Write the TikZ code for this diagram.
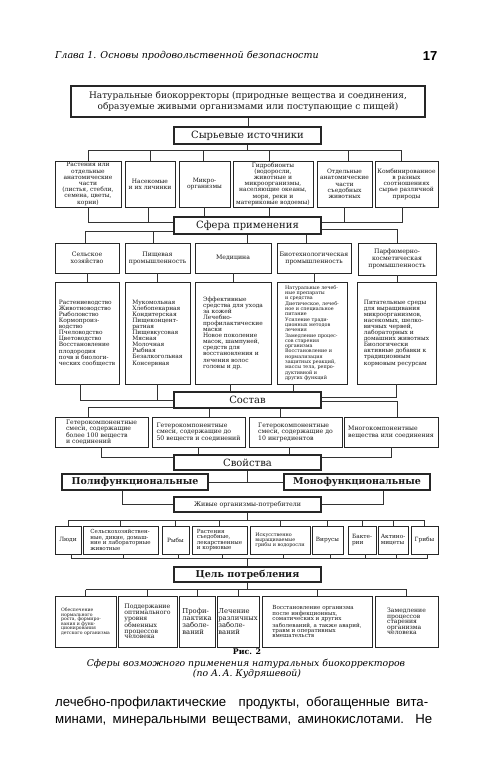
\documentclass[tikz,border=0pt]{standalone}
\usepackage{fontspec}
\setmainfont{DejaVu Serif}
\newfontfamily\bodyfont{Liberation Sans}
\usetikzlibrary{calc}
\newcommand\fs[2]{\fontsize{#1}{#2}\selectfont}
\newcommand\bx[7]{\node[#6,minimum width={(#4)-(#2)},minimum height={(#5)-(#3)}] (#1) at ({((#2)+(#4))/2},{((#3)+(#5))/2}) {#7};}
\begin{document}
\begin{tikzpicture}[x=1pt,y=-1pt,
  box/.style={draw=black!85,line width=0.9pt,inner sep=0.4pt,align=center,text=black!90},
  hbox/.style={box,line width=1.1pt,font=\fs{10}{12}},
  sm/.style={box,font=\fs{6}{6.2}},
  lt/.style={box,align=left},
  ln/.style={draw=black!80,line width=0.6pt}]
\useasboundingbox[fill=white] (0,0) rectangle (500,782);
% header
\node[anchor=west,inner sep=0,font=\itshape\fs{9.5}{11}] (hdr) at (55,56) {Глава 1. Основы продовольственной безопасности};
\node[inner sep=0,font=\bodyfont\bfseries\fs{13}{14}] (pg) at (430,56) {17};
% top
\bx{top}{71}{86}{425}{117}{box,line width=1.1pt,font=\fs{9}{11}}{Натуральные биокорректоры (природные вещества и соединения,\\ образуемые живыми организмами или поступающие с пищей)}
\bx{src}{174}{127}{321}{144}{hbox}{Сырьевые источники}
% sources
\bx{s1}{55}{161}{121}{207}{sm}{Растения или\\ отдельные\\ анатомические\\ части\\ (листья, стебли,\\ семена, цветы,\\ корни)}
\bx{s2}{125}{161}{175}{207}{sm}{Насекомые\\ и их личинки}
\bx{s3}{179}{161}{230}{207}{sm}{Микро-\\ организмы}
\bx{s4}{233}{161}{313}{207}{sm}{Гидробионты\\ (водоросли,\\ животные и\\ микроорганизмы,\\ населяющие океаны,\\ моря, реки и\\ материковые водоемы)}
\bx{s5}{317}{161}{372}{207}{sm}{Отдельные\\ анатомические\\ части\\ съедобных\\ животных}
\bx{s6}{375}{161}{438}{207}{sm}{Комбинированное\\ в разных\\ соотношениях\\ сырье различной\\ природы}
\bx{sph}{174}{217}{321}{234}{hbox}{Сфера применения}
% spheres
\bx{p1}{55}{243}{119}{273}{box,font=\fs{6.2}{7}}{Сельское\\ хозяйство}
\bx{p2}{125}{243}{190}{273}{box,font=\fs{6.2}{7}}{Пищевая\\ промышленность}
\bx{p3}{195}{243}{271}{273}{box,font=\fs{6.2}{7}}{Медицина}
\bx{p4}{277}{243}{351}{273}{box,font=\fs{6.2}{7}}{Биотехнологическая\\ промышленность}
\bx{p5}{358}{243}{436}{275}{box,font=\fs{6.2}{7}}{Парфюмерно-\\ косметическая\\ промышленность}
% tall boxes
\bx{t1}{55}{282}{119}{384}{lt,font=\fs{5.9}{6.1}}{Растениеводство\\ Животноводство\\ Рыболовство\\ Кормопроиз-\\ водство\\ Пчеловодство\\ Цветоводство\\ Восстановление\\ плодородия\\ почв и биологи-\\ ческих сообществ}
\bx{t2}{125}{282}{190}{384}{lt,font=\fs{5.9}{6.1}}{Мукомольная\\ Хлебопекарная\\ Кондитерская\\ Пищеконцент-\\ ратная\\ Пищевкусовая\\ Мясная\\ Молочная\\ Рыбная\\ Безалкогольная\\ Консервная}
\bx{t3}{195}{282}{271}{384}{lt,font=\fs{5.9}{6.1}}{Эффективные\\ средства для ухода\\ за кожей\\ Лечебно-\\ профилактические\\ маски\\ Новое поколение\\ масок, шампуней,\\ средств для\\ восстановления и\\ лечения волос\\ головы и др.}
\bx{t4}{277}{282}{347}{384}{lt,font=\fs{4.9}{5.3}}{Натуральные лечеб-\\ ные препараты\\ и средства\\ Диетическое, лечеб-\\ ное и специальное\\ питание\\ Усиление тради-\\ ционных методов\\ лечения\\ Замедление процес-\\ сов старения\\ организма\\ Восстановление и\\ нормализация\\ защитных реакций,\\ массы тела, репро-\\ дуктивной и\\ других функций}
\bx{t5}{357}{282}{436}{384}{lt,font=\fs{5.9}{6.1}}{Питательные среды\\ для выращивания\\ микроорганизмов,\\ насекомых, шелко-\\ вичных червей,\\ лабораторных и\\ домашних животных\\ Биологически\\ активные добавки к\\ традиционным\\ кормовым ресурсам}
\bx{sost}{174}{392}{321}{408}{hbox}{Состав}
% composition
\bx{c1}{55}{417}{148}{447}{lt,font=\fs{6.2}{6.5}}{Гетерокомпонентные\\ смеси, содержащие\\ более 100 веществ\\ и соединений}
\bx{c2}{152}{417}{245}{447}{lt,font=\fs{6.2}{6.5}}{Гетерокомпонентные\\ смеси, содержащие до\\ 50 веществ и соединений}
\bx{c3}{249}{417}{342}{447}{lt,font=\fs{6.2}{6.5}}{Гетерокомпонентные\\ смеси, содержащие до\\ 10 ингредиентов}
\bx{c4}{344}{417}{438}{447}{lt,font=\fs{6.2}{6.5}}{Многокомпонентные\\ вещества или соединения}
\bx{svo}{174}{455}{321}{470}{hbox}{Свойства}
\bx{poly}{62}{474}{208}{490}{box,line width=1.1pt,font=\bfseries\fs{9.5}{11}}{Полифункциональные}
\bx{mono}{284}{474}{430}{490}{box,line width=1.1pt,font=\bfseries\fs{9.5}{11}}{Монофункциональные}
\bx{zhiv}{174}{497}{321}{512}{box,line width=1.1pt,font=\fs{6.3}{7}}{Живые организмы-потребители}
% organisms
\bx{o1}{55}{526}{81}{554}{box,font=\fs{5.8}{5.6}}{Люди}
\bx{o2}{83}{526}{158}{554}{lt,font=\fs{5.6}{5.4}}{Сельскохозяйствен-\\ ные, дикие, домаш-\\ ние и лабораторные\\ животные}
\bx{o3}{162}{526}{189}{554}{box,font=\fs{5.8}{5.6}}{Рыбы}
\bx{o4}{192}{526}{247}{554}{lt,font=\fs{5.6}{5.4}}{Растения\\ съедобные,\\ лекарственные\\ и кормовые}
\bx{o5}{250}{526}{310}{554}{lt,font=\fs{4.9}{5.2}}{Искусственно\\ выращиваемые\\ грибы и водоросли}
\bx{o6}{312}{526}{343}{554}{box,font=\fs{5.8}{5.6}}{Вирусы}
\bx{o7}{348}{526}{376}{554}{lt,font=\fs{5.8}{5.6}}{Бакте-\\ рии}
\bx{o8}{378}{526}{408}{554}{lt,font=\fs{5.8}{5.6}}{Актино-\\ мицеты}
\bx{o9}{411}{526}{438}{554}{box,font=\fs{5.8}{5.6}}{Грибы}
\bx{cel}{174}{567}{321}{582}{box,line width=1.1pt,font=\bfseries\fs{9.5}{11}}{Цель потребления}
% goals
\bx{g1}{55}{596}{116}{647}{lt,font=\fs{4.6}{4.5}}{Обеспечение\\ нормального\\ роста, формиро-\\ вания и функ-\\ ционирования\\ детского организма}
\bx{g2}{118}{596}{177}{647}{lt,font=\fs{6.2}{5.7}}{Поддержание\\ оптимального\\ уровня\\ обменных\\ процессов\\ человека}
\bx{g3}{179}{596}{215}{647}{lt,font=\fs{6.8}{7.2}}{Профи-\\ лактика\\ заболе-\\ ваний}
\bx{g4}{217}{596}{259}{647}{lt,font=\fs{6.8}{7.2}}{Лечение\\ различных\\ заболе-\\ ваний}
\bx{g5}{262}{596}{372}{647}{lt,font=\fs{5.6}{5.1}}{Восстановление организма\\ после инфекционных,\\ соматических и других\\ заболеваний, а также аварий,\\ травм и оперативных\\ вмешательств}
\bx{g6}{375}{596}{438}{647}{lt,font=\fs{6.1}{5.6}}{Замедление\\ процессов\\ старения\\ организма\\ человека}
% caption and body
\node[inner sep=0,font=\bfseries\fs{7.8}{9}] (cap1) at (247,652) {Рис. 2};
\node[inner sep=0,font=\itshape\fs{9.3}{11}] (cap2) at (246,663.5) {Сферы возможного применения натуральных биокорректоров};
\node[inner sep=0,font=\itshape\fs{9.3}{11}] (cap3) at (247,674) {(по А.\,А. Кудряшевой)};
\node[anchor=west,inner sep=0,font=\bodyfont\fs{13.2}{15}] (body1) at (55,703) {\makebox[373pt][s]{лечебно-профилактические\ \ продукты, обогащенные вита-}};
\node[anchor=west,inner sep=0,font=\bodyfont\fs{13.2}{15}] (body2) at (55,720) {\makebox[377pt][s]{минами, минеральными веществами, аминокислотами. Не}};
% ---------- connectors
\draw[ln] (top.south) -- (top.south |- src.north);
\coordinate (busA) at ($(src.south)+(0,6)$);
\draw[ln] (src.south) -- (busA);
\coordinate (s1t) at (s1.north);
\coordinate (s2t) at (s2.north);
\coordinate (s3t) at ([xshift=-1pt]s3.north);
\coordinate (s4t) at ([xshift=-4pt]s4.north);
\coordinate (s5t) at ([xshift=4pt]s5.north);
\coordinate (s6t) at ([xshift=-5pt]s6.north);
\draw[ln] (s1t |- busA) -- (s6t |- busA);
\foreach \i in {1,...,6} \draw[ln] (s\i t |- busA) -- (s\i t);
% sources -> sphere
\coordinate (jL) at ([yshift=3.5pt]sph.west);
\coordinate (jR) at ([yshift=3.5pt]sph.east);
\coordinate (s2b) at ([xshift=-2pt]s2.south);
\coordinate (s4b) at ([xshift=-4pt]s4.south);
\coordinate (s6b) at ([xshift=-4.5pt]s6.south);
\draw[ln] (s1.south) -- (s1.south |- jL) -- (jL);
\draw[ln] (s2b) -- (s2b |- jL);
\draw[ln] (s3.south) -- (s3.south |- sph.north);
\draw[ln] (s4b) -- (s4b |- sph.north);
\draw[ln] (s6b) -- (s6b |- jR) -- (jR);
\draw[ln] (s5.south) -- (s5.south |- jR);
% sphere -> p
\coordinate (kL) at ([yshift=-5.5pt]sph.west);
\coordinate (kR) at ([yshift=-4pt]sph.east);
\coordinate (p1t) at ([xshift=-2pt]p1.north);
\coordinate (p2t) at ([xshift=-4pt]p2.north);
\coordinate (p4t) at ([xshift=-8pt]p4.north);
\draw[ln] (kL) -- (p1t |- kL) -- (p1t);
\draw[ln] (p2t |- kL) -- (p2t);
\draw[ln] (sph.south) -- (sph.south |- p3.north);
\draw[ln] (p4t |- sph.south) -- (p4t);
\draw[ln] (kR) -- (p5.north |- kR) -- (p5.north);
% p -> t
\foreach \i in {1,...,5} \draw[ln] (p\i.south) -- (p\i.south |- t\i.north);
% t -> sost
\coordinate (t1b) at ([xshift=-7pt]t1.south);
\coordinate (t3b) at ([xshift=-3pt]t3.south);
\coordinate (t4b) at ([xshift=-19pt]t4.south);
\coordinate (mR) at ([yshift=3pt]sost.east);
\draw[ln] (t1b) -- (t1b |- sost.west) -- (sost.west);
\draw[ln] (t2.south) -- (t2.south |- sost.west);
\draw[ln] (t3b) -- (t3b |- sost.north);
\draw[ln] (t4b) -- (t4b |- sost.north);
\draw[ln] (t5.south) -- (t5.south |- mR) -- (mR);
% sost -> c
\coordinate (nL) at ([yshift=-7pt]sost.west);
\coordinate (nR) at ([yshift=-1pt]sost.east);
\coordinate (c1t) at ([xshift=-13.5pt]c1.north);
\coordinate (c2t) at ([xshift=10.5pt]c2.north);
\coordinate (c3t) at ([xshift=-15.5pt]c3.north);
\coordinate (c4t) at ([xshift=6pt]c4.north);
\draw[ln] (nL) -- (c1t |- nL) -- (c1t);
\draw[ln] (c2t |- sost.south) -- (c2t);
\draw[ln] (c3t |- sost.south) -- (c3t);
\draw[ln] (nR) -- (c4t |- nR) -- (c4t);
% c -> svo
\coordinate (qL) at ([yshift=5.5pt]svo.west);
\coordinate (qR) at ([yshift=5.5pt]svo.east);
\coordinate (c3b) at ([xshift=-6.5pt]c3.south);
\draw[ln] (c1.south) -- (c1.south |- qL) -- (qL);
\draw[ln] (c2.south) -- (c2.south |- svo.north);
\draw[ln] (c3b) -- (c3b |- svo.north);
\draw[ln] (c4.south) -- (c4.south |- qR) -- (qR);
% svo -> poly/mono
\draw[ln] (poly.east) -- (mono.west);
\draw[ln] (svo.south) -- (svo.south |- poly.east);
% poly/mono -> zhiv
\coordinate (pb) at ([xshift=-13pt]poly.south);
\coordinate (mb) at ([xshift=26pt]mono.south);
\draw[ln] (pb) -- (pb |- zhiv.west) -- (zhiv.west);
\draw[ln] (mb) -- (mb |- zhiv.east) -- (zhiv.east);
% zhiv -> organisms
\coordinate (busO) at ([yshift=-8pt]zhiv.south);
\draw[ln] (zhiv.south) -- (busO);
\draw[ln] (o1.north |- busO) -- (o9.north |- busO);
\foreach \i in {1,...,9} \draw[ln] (o\i.north |- busO) -- (o\i.north);
% organisms -> cel
\coordinate (busB) at ([yshift=8pt]cel.north);
\foreach \i in {1,...,9} {\coordinate (ob\i) at ([xshift=3pt]o\i.south); \draw[ln] (ob\i) -- (ob\i |- busB);}
\draw[ln] (ob1 |- busB) -- (ob9 |- busB);
\draw[ln] (busB) -- (cel.north);
% cel -> goals
\coordinate (busG) at ([yshift=-7pt]cel.south);
\draw[ln] (cel.south) -- (busG);
\draw[ln] (g1.north |- busG) -- (g6.north |- busG);
\foreach \i in {1,...,6} \draw[ln] (g\i.north |- busG) -- (g\i.north);
\end{tikzpicture}
\end{document}
